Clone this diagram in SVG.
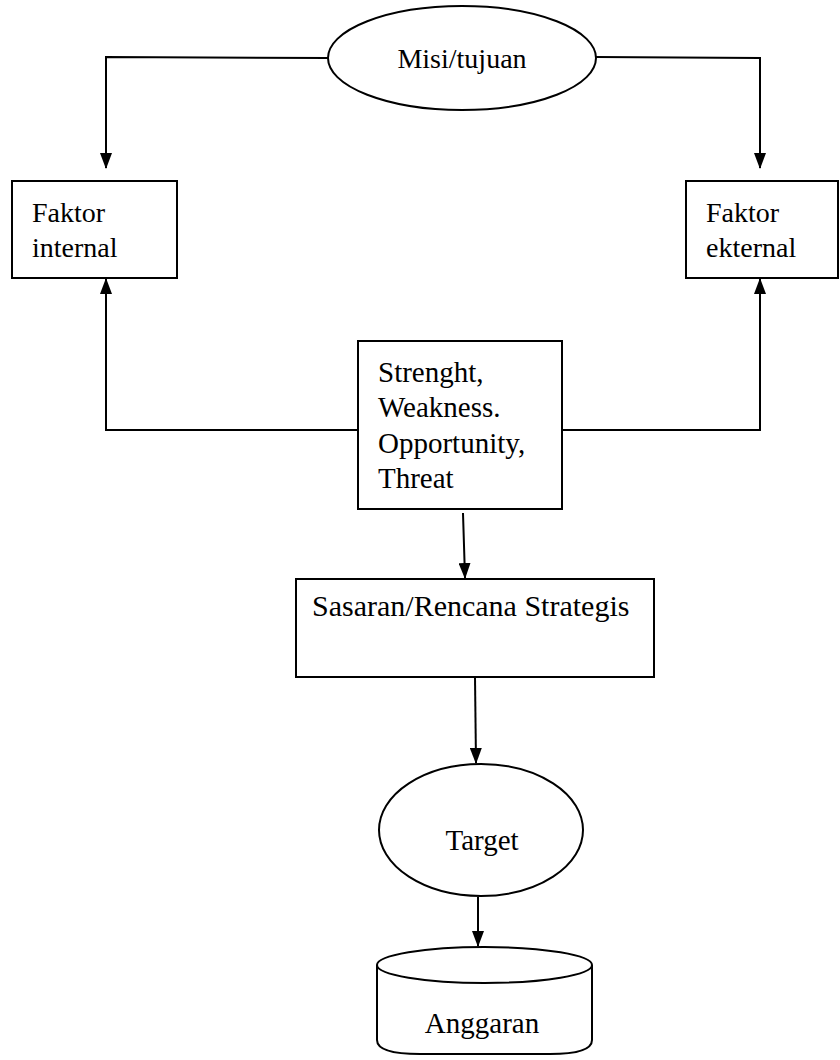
<svg xmlns="http://www.w3.org/2000/svg" width="840" height="1060" viewBox="0 0 840 1060">
<style>
.s{fill:#fff;stroke:#000;stroke-width:2}
.c{fill:none;stroke:#000;stroke-width:2}
text{font-family:"Liberation Serif","Times New Roman",serif;font-size:28px;fill:#000}
.b{font-size:29px}
.g{font-size:30px}
</style>
<defs>
<marker id="d" markerWidth="16" markerHeight="12" refX="15" refY="6" orient="auto" markerUnits="userSpaceOnUse" viewBox="0 0 16 12">
<path d="M0,0 L16,6 L0,12 Z" fill="#000"/>
</marker>
</defs>
<rect width="840" height="1060" fill="#fff"/>
<g id="connectors">
<polyline class="c" points="328,58 106,57 106,168" marker-end="url(#d)"/>
<polyline class="c" points="596,57 760,58 760,168" marker-end="url(#d)"/>
<polyline class="c" points="358,430 106,430 106,279" marker-end="url(#d)"/>
<polyline class="c" points="562,430 760,430 760,279" marker-end="url(#d)"/>
<line class="c" x1="463" y1="513" x2="465" y2="578" marker-end="url(#d)"/>
<line class="c" x1="475" y1="677" x2="476" y2="763" marker-end="url(#d)"/>
<line class="c" x1="478" y1="897" x2="478" y2="946" marker-end="url(#d)"/>
</g>
<g id="misi">
<ellipse class="s" cx="462" cy="58" rx="134" ry="52"/>
<text x="462" y="68" text-anchor="middle">Misi/tujuan</text>
</g>
<g id="internal">
<rect class="s" x="12" y="181" width="165" height="97"/>
<text x="32" y="222">Faktor</text>
<text x="32" y="257">internal</text>
</g>
<g id="eksternal">
<rect class="s" x="686" y="181" width="152" height="97"/>
<text x="706" y="222">Faktor</text>
<text x="706" y="257">ekternal</text>
</g>
<g id="swot">
<rect class="s" x="358" y="341" width="204" height="168"/>
<text class="b" x="378" y="382">Strenght,</text>
<text class="b" x="378" y="417">Weakness.</text>
<text class="b" x="378" y="453">Opportunity,</text>
<text class="b" x="378" y="488">Threat</text>
</g>
<g id="sasaran">
<rect class="s" x="296" y="579" width="358" height="98"/>
<text class="g" x="312" y="616">Sasaran/Rencana Strategis</text>
</g>
<g id="target">
<ellipse class="s" cx="481" cy="830" rx="102" ry="66"/>
<text class="b" x="482" y="850" text-anchor="middle">Target</text>
</g>
<g id="anggaran">
<path class="s" d="M377,965 L377,1040 Q377,1054 420,1054 L550,1054 Q592,1054 592,1040 L592,965"/>
<ellipse class="s" cx="484.5" cy="965" rx="107.5" ry="18"/>
<text class="b" x="482" y="1033" text-anchor="middle">Anggaran</text>
</g>
</svg>
